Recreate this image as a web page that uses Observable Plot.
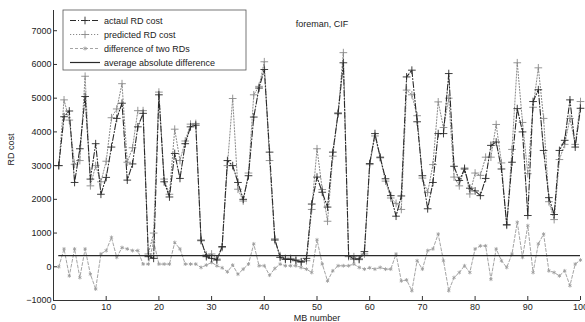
<!DOCTYPE html>
<html><head><meta charset="utf-8">
<script src="https://cdn.jsdelivr.net/npm/d3@7"></script>
<script src="https://cdn.jsdelivr.net/npm/@observablehq/plot@0.6"></script>
<style>
body{margin:0;background:#fff}
#chart{position:relative;width:585px;height:322px;overflow:hidden}
svg{font-family:"Liberation Sans",Arial,Helvetica,sans-serif}
</style>
</head><body><div id="chart"></div>
<script>
// ---- data ----
const mbNumber = [1,2,3,4,5,6,7,8,9,10,11,12,13,14,15,16,17,18,19,20,21,22,23,24,25,26,27,28,29,30,31,32,33,34,35,36,37,38,39,40,41,42,43,44,45,46,47,48,49,50,51,52,53,54,55,56,57,58,59,60,61,62,63,64,65,66,67,68,69,70,71,72,73,74,75,76,77,78,79,80,81,82,83,84,85,86,87,88,89,90,91,92,93,94,95,96,97,98,99,100];
const actualRD = [3000,4450,4620,2500,3500,5050,2600,3650,2150,2650,3550,4400,4850,2570,3050,4150,4550,300,250,5100,2520,2070,3360,2620,3650,4150,4200,790,300,250,200,600,3150,3000,2500,2000,2700,4440,5300,5850,3400,820,280,220,220,180,150,250,1860,2660,2210,1770,3400,4540,6050,330,230,230,450,3060,3950,3250,2610,2110,1500,2100,5630,5830,4300,2700,1720,2500,3950,3950,5730,2980,2560,2900,2330,2250,2110,2620,3600,3700,2900,1250,3100,4690,4000,1520,4900,5250,3450,2050,1550,3450,3750,4950,3550,4700];
const predictedRD = [3000,4950,4350,3040,3150,5650,2400,3000,2520,3130,4420,4680,5430,3100,3530,4630,4630,380,1000,5180,2600,2150,4080,3150,3730,4230,4250,770,350,380,230,570,3000,4990,2300,1950,2780,5100,5350,6080,3150,780,330,250,250,210,130,180,1700,3500,2290,1350,3280,4570,6350,300,300,210,380,3030,3880,3230,2540,2040,1880,1700,5240,5100,4480,2630,2200,3030,4890,4130,5000,2660,2400,2930,2160,2780,2710,3250,3250,4220,3080,1230,3480,6050,4280,2760,4730,5900,4400,1930,1400,3180,3630,4400,3630,4900];
const diffRD = [0,530,-270,530,-320,530,-220,-660,380,480,870,280,570,530,480,480,80,80,750,80,80,80,720,530,80,80,80,-20,50,130,30,-30,-150,50,-220,-70,80,680,30,30,-250,-50,80,30,30,30,-20,-70,-170,800,80,-420,-120,30,30,30,80,-20,-70,-30,-70,-20,-70,-70,380,-420,-390,-710,180,-70,480,530,970,180,-710,-320,-170,30,-170,530,620,620,-370,530,180,-20,380,1320,280,1220,-170,680,970,-120,-170,-270,-120,-560,80,200];
const avgAbsDiff = 330;
const xTicks = [0,10,20,30,40,50,60,70,80,90,100];
const yTicks = [-1000,0,1000,2000,3000,4000,5000,6000,7000];
const seriesNames = ["actaul RD cost","predicted RD cost","difference of two RDs","average absolute difference"];
const titleText = "foreman, CIF";
const xLabel = "MB number";
const yLabel = "RD cost";

// ---- styles ----
const W = 585, H = 322, mL = 53, mR = 5, mT = 10, mB = 22;
const frameW = W - mL - mR, frameH = H - mT - mB;
const styles = [
  {stroke: "#2a2a2a", dash: "6,2,1,2", width: 1.1, symbol: "plus", r: 2.6},
  {stroke: "#8a8a8a", dash: "1.2,1.8", width: 1.0, symbol: "plus", r: 2.6},
  {stroke: "#9a9a9a", dash: "3,2", width: 0.9, symbol: "asterisk", r: 1.8},
  {stroke: "#2a2a2a", dash: null, width: 1.2, symbol: null}
];

const rows = (vals) => mbNumber.map((m, i) => ({mb: m, v: vals[i]}));
const dA = rows(actualRD), dP = rows(predictedRD), dD = rows(diffRD);

const chart = Plot.plot({
  width: W, height: H,
  marginLeft: mL, marginRight: mR, marginTop: mT, marginBottom: mB,
  style: {fontFamily: '"Liberation Sans",Arial,Helvetica,sans-serif', fontSize: "9px", color: "#222", background: "#fff"},
  x: {domain: [0, 100], axis: null},
  y: {domain: [-1000, 7600], axis: null},
  marks: [
    Plot.line(dD, {x: "mb", y: "v", stroke: styles[2].stroke, strokeWidth: styles[2].width, strokeDasharray: styles[2].dash}),
    Plot.dot(dD, {x: "mb", y: "v", symbol: styles[2].symbol, r: styles[2].r, stroke: styles[2].stroke, strokeWidth: 0.8}),
    Plot.line(dP, {x: "mb", y: "v", stroke: styles[1].stroke, strokeWidth: styles[1].width, strokeDasharray: styles[1].dash}),
    Plot.dot(dP, {x: "mb", y: "v", symbol: styles[1].symbol, r: styles[1].r, stroke: styles[1].stroke, strokeWidth: 0.9}),
    Plot.line(dA, {x: "mb", y: "v", stroke: styles[0].stroke, strokeWidth: styles[0].width, strokeDasharray: styles[0].dash}),
    Plot.dot(dA, {x: "mb", y: "v", symbol: styles[0].symbol, r: styles[0].r, stroke: styles[0].stroke, strokeWidth: 0.9}),
    Plot.ruleY([avgAbsDiff], {x1: mbNumber[0], x2: mbNumber[mbNumber.length - 1], stroke: styles[3].stroke, strokeWidth: styles[3].width}),
    Plot.ruleX([xTicks[0]], {stroke: "#333", strokeWidth: 1}),
    Plot.ruleY([yTicks[0]], {stroke: "#333", strokeWidth: 1}),
    Plot.tickX(xTicks, {x: d => d, insetTop: frameH - 4, stroke: "#333"}),
    Plot.tickY(yTicks, {y: d => d, insetRight: frameW - 4, stroke: "#333"}),
    Plot.axisX(xTicks, {tickSize: 0, tickPadding: 3, fontSize: 9, fill: "#222", label: null}),
    Plot.axisY(yTicks, {tickSize: 0, tickPadding: 2, fontSize: 9, fill: "#222", label: null, tickFormat: d => d < 0 ? "\u2212" + String(-d) : String(d)}),
    Plot.text([xLabel], {frameAnchor: "bottom", dy: 20, lineAnchor: "bottom", fontSize: 9, fill: "#222"}),
    Plot.text([yLabel], {frameAnchor: "left", dx: -42, dy: 10, rotate: -90, fontSize: 9, fill: "#222"}),
    Plot.text([titleText], {frameAnchor: "top", dx: 5, dy: 10, fontSize: 9, fill: "#222"})
  ]
});

// ---- legend box ----
const svg = d3.select(chart);
const lg = svg.append("g").attr("transform", "translate(63,10)");
lg.append("rect").attr("width", 183).attr("height", 60).attr("fill", "#fff").attr("stroke", "#555").attr("stroke-width", 0.8);
const symMap = {plus: d3.symbolPlus, asterisk: d3.symbolAsterisk};
seriesNames.forEach((name, i) => {
  const s = styles[i];
  const y = 10.5 + i * 14;
  lg.append("line").attr("x1", 7).attr("x2", 37).attr("y1", y).attr("y2", y)
    .attr("stroke", s.stroke).attr("stroke-width", s.width)
    .attr("stroke-dasharray", s.dash);
  if (s.symbol) {
    lg.append("path").attr("transform", `translate(22,${y})`)
      .attr("d", d3.symbol(symMap[s.symbol], Math.PI * s.r * s.r)())
      .attr("fill", "none").attr("stroke", s.stroke).attr("stroke-width", 0.9);
  }
  lg.append("text").attr("x", 41).attr("y", y).attr("dy", "0.35em")
    .attr("text-anchor", "start")
    .attr("font-size", 9).attr("fill", "#222").text(name);
});

document.getElementById("chart").appendChild(chart);
</script>
</body></html>
